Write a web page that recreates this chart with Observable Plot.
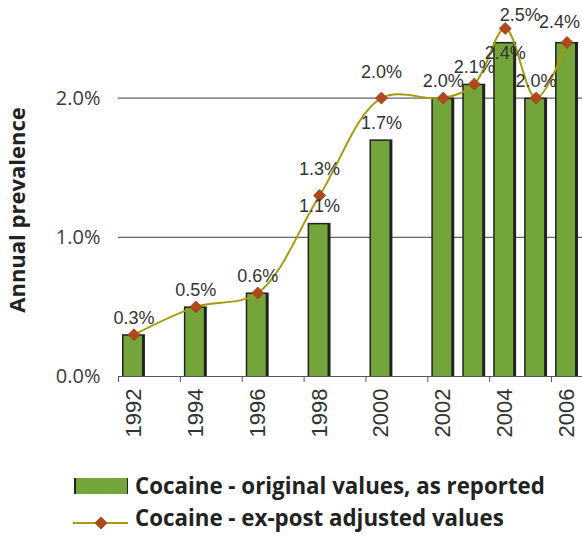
<!DOCTYPE html>
<html>
<head>
<meta charset="utf-8">
<script src="https://cdn.jsdelivr.net/npm/d3@7"></script>
<script src="https://cdn.jsdelivr.net/npm/@observablehq/plot@0.6"></script>
<style>
  html, body { margin: 0; padding: 0; background: #fff; }
  #wrap { position: relative; width: 582px; height: 536px; overflow: hidden; }
  #legend { position: absolute; left: 0; top: 450px; }
</style>
</head>
<body>
<div id="wrap"></div>
<script>
// ---- data ----
const allYears = [1992,1993,1994,1995,1996,1997,1998,1999,2000,2001,2002,2003,2004,2005,2006];
const tickYears = [1992,1994,1996,1998,2000,2002,2004,2006];
const years = [1992,1994,1996,1998,2000,2002,2003,2004,2005,2006];
const original = [0.3,0.5,0.6,1.1,1.7,2.0,2.1,2.4,2.0,2.4];
const adjusted = [0.3,0.5,0.6,1.3,2.0,2.0,2.1,2.5,2.0,2.4];
const yTicks = [0,1,2];
const seriesNames = ["Cocaine - original values, as reported", "Cocaine - ex-post adjusted values"];
const yTitle = "Annual prevalence";

const rows = years.map((y, i) => ({year: y, orig: original[i], adj: adjusted[i]}));

const GREEN = "#74a53a", MARK = "#b1481d", LINE = "#a59c0a", GRID = "#666";
const fmt = v => v.toFixed(1) + "%";
const W = 582, H = 450, ML = 118, MR = 0, MT = 28, MB = 74;
const step = (W - ML - MR) / allYears.length;

// bar labels: normally above the bar; pushed inside when the marker sits just above
const collide = d => d.adj - d.orig > 0 && d.adj - d.orig < 0.15;
const lastYear = years[years.length - 1];
const lbl = {fontSize: 18, fill: "#333", style: {letterSpacing: "-0.8px"}};

const chart = Plot.plot({
  width: W, height: H,
  marginLeft: ML, marginRight: MR, marginTop: MT, marginBottom: MB,
  style: {fontFamily: "Liberation Sans, Arial, sans-serif", background: "#fff", overflow: "visible"},
  x: {type: "band", domain: allYears, padding: 0, round: false},
  y: {domain: [0, 2.5]},
  marks: [
    Plot.ruleY(yTicks, {stroke: GRID, strokeWidth: 1.2}),
    Plot.axisY(yTicks, {tickSize: 0, tickPadding: 18, tickFormat: fmt, label: null,
      fontSize: 20, fill: "#3a3a3a", fontFamily: "Open Sans, sans-serif"}),
    Plot.axisX(tickYears, {tickSize: 6, tickFormat: () => "", dx: -step / 2, label: null, stroke: "#555"}),
    Plot.axisX(tickYears, {tickSize: 0, tickPadding: 12, tickRotate: -90, label: null,
      tickFormat: d => String(d), fontSize: 22, fill: "#333", style: {letterSpacing: "-1px"}}),
    Plot.barY(rows, {x: "year", y: "orig", fill: "#222", insetLeft: 4, insetRight: 4}),
    Plot.barY(rows, {x: "year", y: "orig", fill: GREEN, insetLeft: 5.5, insetRight: 7, insetTop: 1.5}),
    Plot.line(rows, {x: "year", y: "adj", stroke: LINE, strokeWidth: 2, curve: "catmull-rom"}),
    Plot.dot(rows, {x: "year", y: "adj", symbol: "diamond2", r: 5.4, fill: MARK, stroke: "#9a3f18", strokeWidth: 0.8}),
    Plot.text(rows.filter(d => !collide(d) && d.year !== lastYear), {x: "year", y: "orig", text: d => fmt(d.orig), dy: -17, ...lbl}),
    Plot.text(rows.filter(d => collide(d)), {x: "year", y: "orig", text: d => fmt(d.orig), dy: 11, ...lbl}),
    Plot.text(rows.filter(d => d.year === lastYear), {x: "year", y: "orig", text: d => fmt(d.orig),
      dy: -20, dx: 13, textAnchor: "end", ...lbl}),
    Plot.text(rows.filter(d => d.adj !== d.orig && d.adj < 2.45), {x: "year", y: "adj", text: d => fmt(d.adj), dy: -26, ...lbl}),
    Plot.text(rows.filter(d => d.adj !== d.orig && d.adj >= 2.45), {x: "year", y: "adj", text: d => fmt(d.adj), dy: -13, dx: 15, ...lbl}),
    Plot.ruleY([0], {stroke: "#555", strokeWidth: 1.2})
  ]
});
document.getElementById("wrap").appendChild(chart);

// y axis title
d3.select(chart).append("text")
  .attr("transform", "translate(19,210) rotate(-90)")
  .attr("text-anchor", "middle").attr("dominant-baseline", "middle")
  .attr("font-family", "Open Sans, sans-serif").attr("font-weight", "bold")
  .attr("font-size", 22).attr("fill", "#222").text(yTitle);

// legend (below the chart)
const leg = d3.select("#wrap").append("svg").attr("id", "legend")
  .attr("width", 582).attr("height", 86);
leg.append("rect").attr("x", 74).attr("y", 28).attr("width", 54).attr("height", 16).attr("fill", "#222");
leg.append("rect").attr("x", 76).attr("y", 28).attr("width", 51).attr("height", 16).attr("fill", GREEN);
leg.append("line").attr("x1", 73).attr("x2", 128).attr("y1", 73).attr("y2", 73)
  .attr("stroke", LINE).attr("stroke-width", 2);
leg.append("path").attr("d", d3.symbol(d3.symbolDiamond2, Math.PI * 5.4 * 5.4)()).attr("transform", "translate(101,73)")
  .attr("fill", MARK).attr("stroke", "#9a3f18").attr("stroke-width", 0.8);
[[44, seriesNames[0]], [76, seriesNames[1]]].forEach(([y, t]) => {
  leg.append("text").attr("x", 135).attr("y", y).text(t)
    .attr("font-family", "Open Sans, sans-serif").attr("font-weight", "bold")
    .attr("font-size", 22.3).attr("fill", "#222");
});
</script>
</body>
</html>
